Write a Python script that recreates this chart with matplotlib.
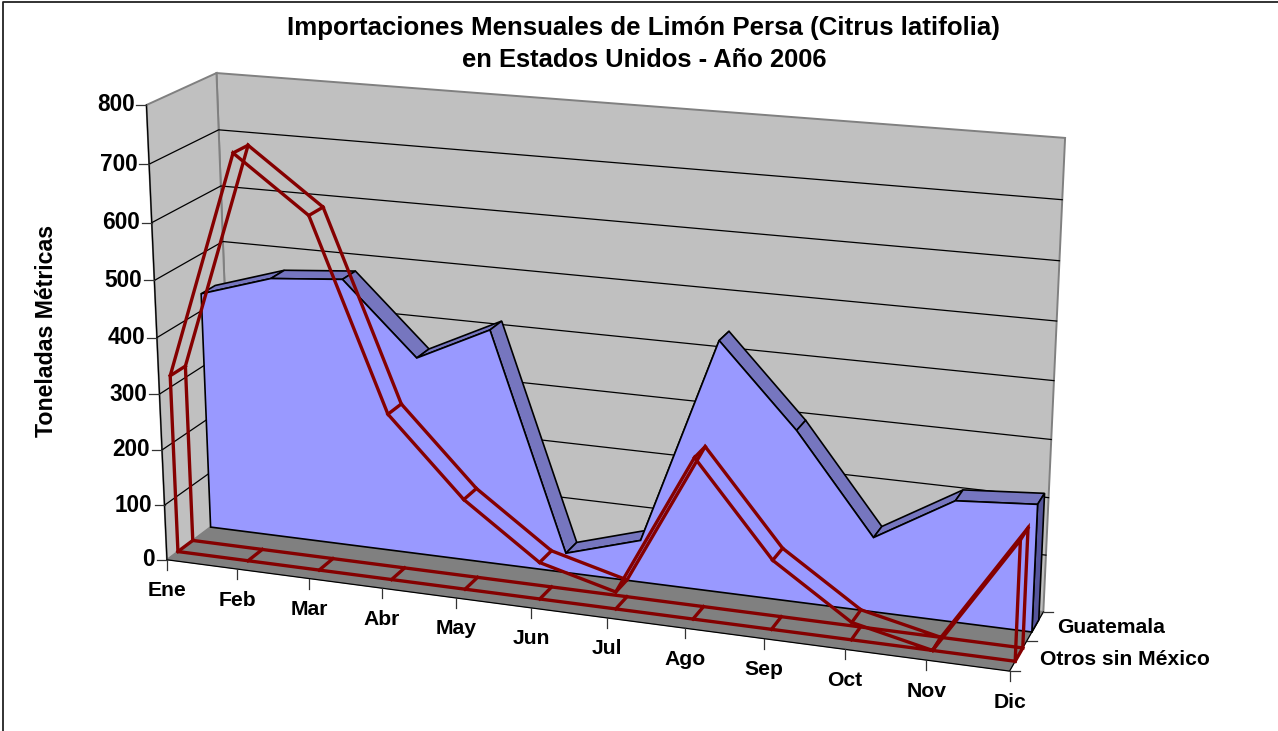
import matplotlib
matplotlib.use('Agg')
import matplotlib.pyplot as plt
import numpy as np
from matplotlib.patches import Polygon

plt.rcParams['font.family'] = ['Liberation Sans', 'DejaVu Sans']

W, H = 1278, 731

meses = ['Ene', 'Feb', 'Mar', 'Abr', 'May', 'Jun', 'Jul', 'Ago', 'Sep', 'Oct', 'Nov', 'Dic']
guatemala = [430, 470, 481, 355, 418, 35, 75, 440, 300, 130, 210, 220]
otros = [320, 720, 625, 295, 160, 65, 30, 280, 120, 30, 0, 205]
series_labels = ['Otros sin México', 'Guatemala']
y_ticks = [0, 100, 200, 300, 400, 500, 600, 700, 800]

YMAX = 800
NX = len(meses) - 1

# box corners as they sit on the page: (month, value, depth) -> pixel
box_3d = [(0, 0, 0), (0, YMAX, 0), (0, 0, 2), (0, YMAX, 2),
          (NX, 0, 2), (NX, YMAX, 2), (NX, 0, 0)]
box_px = [(167, 558), (146, 106), (233, 512), (217, 72),
          (1043, 611), (1065, 138), (1010, 672)]

# fit a perspective camera to those corners
A, b = [], []
for (x, y, z), (u, v) in zip(box_3d, box_px):
    A.append([x, y, z, 1, 0, 0, 0, 0, -u * x, -u * y, -u * z])
    A.append([0, 0, 0, 0, x, y, z, 1, -v * x, -v * y, -v * z])
    b += [u, v]
cam = np.append(np.linalg.lstsq(np.array(A, float), np.array(b, float), rcond=None)[0], 1).reshape(3, 4)


def proj(x, y, z):
    p = cam @ np.array([x, y, z, 1.0])
    return p[0] / p[2], p[1] / p[2]


fig = plt.figure(figsize=(W / 100, H / 100), dpi=100)
ax = fig.add_axes([0, 0, 1, 1])
ax.set_xlim(0, W)
ax.set_ylim(H, 0)
ax.axis('off')

# only the top and left of the chart frame are in the picture
ax.plot([2.5, 2.5, W], [H, 1.5, 1.5], color='#222222', lw=1.3)

# walls and floor
wall = '#C0C0C0'
edge = '#808080'
ax.add_patch(Polygon([proj(0, 0, 2), proj(0, YMAX, 2), proj(NX, YMAX, 2), proj(NX, 0, 2)],
                     fc=wall, ec=edge, lw=1.4, zorder=1))
ax.add_patch(Polygon([proj(0, 0, 0), proj(0, YMAX, 0), proj(0, YMAX, 2), proj(0, 0, 2)],
                     fc=wall, ec=edge, lw=1.4, zorder=1))
ax.add_patch(Polygon([proj(0, 0, 0), proj(0, 0, 2), proj(NX, 0, 2), proj(NX, 0, 0)],
                     fc=edge, ec=edge, lw=0.5, zorder=2))
for t in y_ticks[1:-1]:
    ax.plot(*zip(proj(0, t, 0), proj(0, t, 2), proj(NX, t, 2)), color='black', lw=0.9, zorder=1.5)

# axes lines and ticks
ax.plot(*zip(proj(0, 0, 0), proj(0, YMAX, 0)), color='black', lw=0.9, zorder=2.5)
ax.plot(*zip(proj(0, 0, 0), proj(NX, 0, 0), proj(NX, 0, 2)), color='black', lw=0.9, zorder=2.5)
for t in y_ticks:
    u, v = proj(0, t, 0)
    ax.plot([u - 10, u], [v, v], color='#333333', lw=0.9, zorder=2.5)
    ax.text(u - 12, v, str(t), ha='right', va='center', fontsize=16.3, fontweight='bold', zorder=5)
for i, m in enumerate(meses):
    u, v = proj(i, 0, 0)
    ax.plot([u, u], [v, v + 10], color='#333333', lw=0.9, zorder=2.5)
    ax.text(u, v + 31, m, ha='center', va='center', fontsize=15.2, fontweight='bold', zorder=5)
for d in range(3):
    u, v = proj(NX, 0, d)
    ax.plot([u, u + 10], [v, v], color='#333333', lw=0.9, zorder=2.5)
for d, name in enumerate(series_labels):
    u, v = proj(NX, 0, d + 0.5)
    ax.text(u + 22, v + 4 - 3 * d, name, ha='left', va='center', fontsize=15.2, fontweight='bold', zorder=5)

# Guatemala, filled, back row
z0, z1 = 1.3, 1.72
for i in range(NX):
    strip = [proj(i, guatemala[i], z0), proj(i + 1, guatemala[i + 1], z0),
             proj(i + 1, guatemala[i + 1], z1), proj(i, guatemala[i], z1)]
    ax.add_patch(Polygon(strip, fc='#7676BF', ec='black', lw=1.2, zorder=3))
side = [proj(NX, 0, z0), proj(NX, guatemala[-1], z0), proj(NX, guatemala[-1], z1), proj(NX, 0, z1)]
ax.add_patch(Polygon(side, fc='#55559B', ec='black', lw=1.2, zorder=3))
front = [proj(0, 0, z0)] + [proj(i, v, z0) for i, v in enumerate(guatemala)] + [proj(NX, 0, z0)]
ax.add_patch(Polygon(front, fc='#9999FF', ec='black', lw=1.2, zorder=3.2))

# Otros sin Mexico, outline only, front row
z0, z1 = 0.32, 0.76
red = '#850000'
for z in (z1, z0):
    pts = [proj(0, 0, z)] + [proj(i, v, z) for i, v in enumerate(otros)] + [proj(NX, 0, z)]
    ax.add_patch(Polygon(pts, fc='none', ec=red, lw=2.4, zorder=4, joinstyle='miter'))
for i, v in enumerate(otros):
    ax.plot(*zip(proj(i, v, z0), proj(i, v, z1)), color=red, lw=2.4, zorder=4)
    ax.plot(*zip(proj(i, 0, z0), proj(i, 0, z1)), color=red, lw=2.4, zorder=4)

ax.text(643, 28, 'Importaciones Mensuales de Limón Persa (Citrus latifolia)', ha='center', va='center',
        fontsize=18.6, fontweight='bold', zorder=5)
ax.text(644, 60, 'en Estados Unidos - Año 2006', ha='center', va='center',
        fontsize=18.4, fontweight='bold', zorder=5)
ax.text(47, 331, 'Toneladas Métricas', rotation=90, ha='center', va='center',
        fontsize=16.7, fontweight='bold', zorder=5)

fig.savefig('out.png', dpi=100)
